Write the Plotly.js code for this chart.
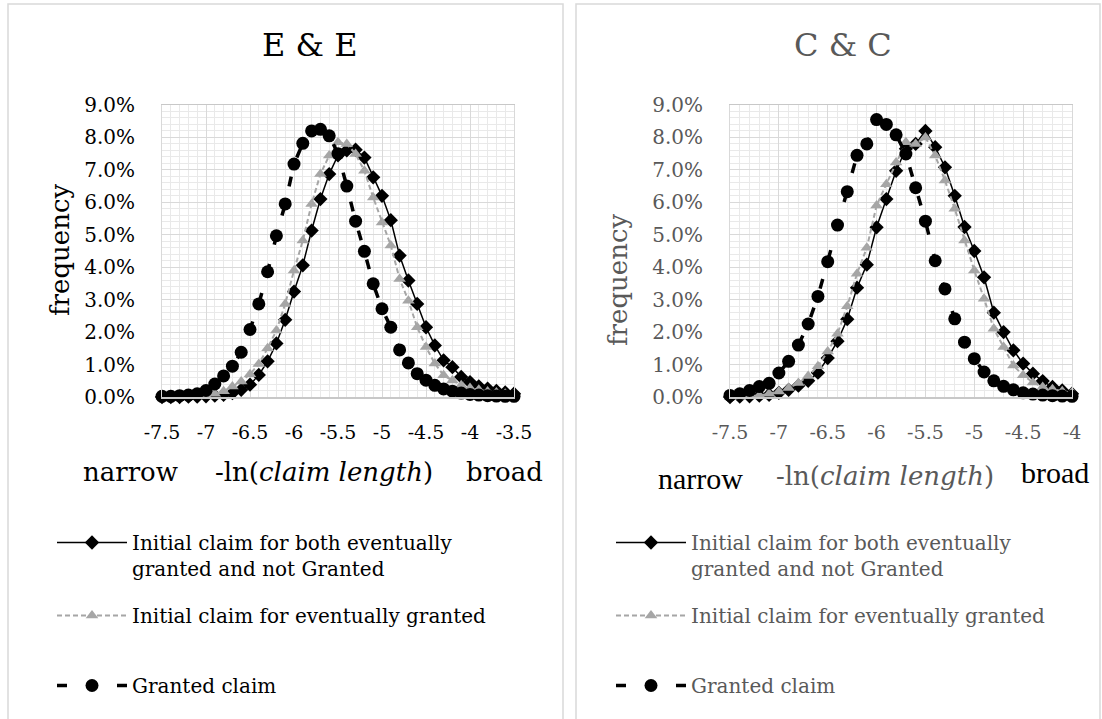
<!DOCTYPE html>
<html>
<head>
<meta charset="utf-8">
<script src="https://cdn.plot.ly/plotly-3.0.1.min.js"></script>
<style>html,body{margin:0;padding:0;background:#fff;}#chart{width:1102px;height:719px;}</style>
</head>
<body>
<div id="chart"></div>
<script>
// ---- data ----
const eeX = [-7.5,-7.4,-7.3,-7.2,-7.1,-7.0,-6.9,-6.8,-6.7,-6.6,-6.5,-6.4,-6.3,-6.2,-6.1,-6.0,-5.9,-5.8,-5.7,-5.6,-5.5,-5.4,-5.3,-5.2,-5.1,-5.0,-4.9,-4.8,-4.7,-4.6,-4.5,-4.4,-4.3,-4.2,-4.1,-4.0,-3.9,-3.8,-3.7,-3.6,-3.5];
const eeBoth = [0.00,0.00,0.00,0.01,0.01,0.02,0.04,0.07,0.12,0.22,0.38,0.68,1.10,1.65,2.38,3.25,4.06,5.13,6.10,6.87,7.45,7.60,7.62,7.38,6.77,6.20,5.45,4.36,3.59,2.87,2.15,1.59,1.13,0.92,0.62,0.46,0.33,0.26,0.19,0.14,0.10];
const eeEventual = [0.00,0.00,0.01,0.02,0.03,0.05,0.10,0.18,0.32,0.48,0.70,1.02,1.50,2.05,2.87,3.90,4.82,5.95,6.87,7.44,7.85,7.80,7.49,6.97,6.15,5.38,4.67,3.64,2.97,2.15,1.54,1.03,0.67,0.51,0.36,0.28,0.22,0.17,0.14,0.10,0.08];
const eeGranted = [0.02,0.02,0.04,0.06,0.10,0.20,0.40,0.65,0.95,1.38,2.08,2.87,3.86,4.97,5.95,7.18,7.82,8.20,8.25,8.05,7.50,6.50,5.42,4.49,3.49,2.72,2.15,1.45,1.05,0.72,0.52,0.36,0.25,0.18,0.12,0.08,0.06,0.04,0.03,0.02,0.02];

const ccX = [-7.5,-7.4,-7.3,-7.2,-7.1,-7.0,-6.9,-6.8,-6.7,-6.6,-6.5,-6.4,-6.3,-6.2,-6.1,-6.0,-5.9,-5.8,-5.7,-5.6,-5.5,-5.4,-5.3,-5.2,-5.1,-5.0,-4.9,-4.8,-4.7,-4.6,-4.5,-4.4,-4.3,-4.2,-4.1,-4.0];
const ccBoth = [0.00,0.01,0.02,0.04,0.07,0.13,0.22,0.35,0.50,0.75,1.20,1.72,2.40,3.37,4.08,5.23,6.10,6.97,7.65,7.80,8.20,7.70,7.08,6.20,5.24,4.50,3.69,2.60,2.00,1.44,1.03,0.72,0.49,0.31,0.20,0.10];
const ccEventual = [0.00,0.01,0.03,0.05,0.10,0.17,0.28,0.43,0.65,0.95,1.40,1.95,2.80,3.80,4.60,5.90,6.56,7.23,7.85,7.80,8.00,7.44,6.67,5.80,4.82,3.90,3.03,2.10,1.54,0.97,0.67,0.45,0.31,0.24,0.18,0.14];
const ccGranted = [0.05,0.10,0.20,0.32,0.42,0.74,1.10,1.60,2.25,3.10,4.17,5.30,6.33,7.45,7.80,8.55,8.40,8.08,7.49,6.45,5.42,4.20,3.33,2.41,1.69,1.18,0.77,0.50,0.33,0.22,0.13,0.09,0.06,0.04,0.03,0.02];

const eeTickVals = [-7.5,-7,-6.5,-6,-5.5,-5,-4.5,-4,-3.5];
const eeTickText = ['-7.5','-7','-6.5','-6','-5.5','-5','-4.5','-4','-3.5'];
const ccTickVals = [-7.5,-7,-6.5,-6,-5.5,-5,-4.5,-4];
const ccTickText = ['-7.5','-7','-6.5','-6','-5.5','-5','-4.5','-4'];

const seriesNames = ['Initial claim for both eventually<br>granted and not Granted','Initial claim for eventually granted','Granted claim'];
const panelTitles = ['E &amp; E','C &amp; C'];

// ---- styles ----
const SERIF = 'DejaVu Serif';
const W = 1102, H = 719;
const px = v => v / W, py = v => 1 - v / H;
const GRAY_TXT = '#595959';

function seriesTraces(xs, both, ev, gr, xa, ya, legA, legB, tag) {
  return [
    {x: xs, y: both, xaxis: xa, yaxis: ya, type: 'scatter', mode: 'lines+markers', name: seriesNames[0],
     line: {color: '#000000', width: 1.5}, marker: {symbol: 'diamond', size: 11, color: '#000000'},
     cliponaxis: false, legend: legA, legendgroup: tag + 'a'},
    {x: xs, y: ev, xaxis: xa, yaxis: ya, type: 'scatter', mode: 'lines+markers', name: seriesNames[1],
     line: {color: '#a6a6a6', width: 2, dash: '5px,3px'}, marker: {symbol: 'triangle-up', size: 11, color: '#a6a6a6'},
     cliponaxis: false, legend: legA, legendgroup: tag + 'b'},
    {x: xs, y: gr, xaxis: xa, yaxis: ya, type: 'scatter', mode: 'lines+markers', name: seriesNames[2],
     line: {color: '#000000', width: 3.5, dash: '10px,20px'}, marker: {symbol: 'circle', size: 13, color: '#000000'},
     cliponaxis: false, legend: legB, legendgroup: tag + 'c'}
  ];
}

const data = [].concat(
  seriesTraces(eeX, eeBoth, eeEventual, eeGranted, 'x', 'y', 'legend', 'legend3', 'ee'),
  seriesTraces(ccX, ccBoth, ccEventual, ccGranted, 'x2', 'y2', 'legend2', 'legend4', 'cc')
);

function xAxis(dom, rng, tv, tt, color) {
  return {domain: dom, range: rng, tickmode: 'array', tickvals: tv, ticktext: tt,
    showgrid: true, gridcolor: '#d9d9d9', gridwidth: 1,
    minor: {dtick: 0.1, showgrid: true, gridcolor: '#e9e9e9', gridwidth: 1, ticks: ''},
    zeroline: false, showline: true, linecolor: '#c8c8c8', linewidth: 1.5, mirror: true,
    ticks: '', ticklabelstandoff: 18,
    tickfont: {family: SERIF, size: 19, color: color}, fixedrange: true};
}
function yAxis(dom, anchor, color) {
  return {domain: dom, anchor: anchor, range: [0, 9], dtick: 1, tickformat: '.1f', ticksuffix: '%',
    showgrid: true, gridcolor: '#d9d9d9', gridwidth: 1,
    minor: {dtick: 0.2, showgrid: true, gridcolor: '#e9e9e9', gridwidth: 1, ticks: ''},
    zeroline: false, showline: true, linecolor: '#d9d9d9', linewidth: 1, mirror: true,
    ticks: '', ticklabelstandoff: 22,
    tickfont: {family: SERIF, size: 20, color: color}, fixedrange: true};
}

const yDom = [py(397), py(105)];

function legendCfg(x, y, color) {
  return {x: px(x), y: py(y), xanchor: 'left', yanchor: 'top', bgcolor: 'rgba(0,0,0,0)',
    font: {family: SERIF, size: 20, color: color}, valign: 'top', itemwidth: 70,
    traceorder: 'grouped', tracegroupgap: 18};
}

function ann(text, x, y, size, color, family, angle) {
  return {text: text, x: px(x), y: py(y), xref: 'paper', yref: 'paper', showarrow: false,
    xanchor: 'center', yanchor: 'middle', textangle: angle || 0,
    font: {family: family || SERIF, size: size, color: color}};
}

const layout = {
  width: W, height: H, margin: {l: 0, r: 0, t: 0, b: 0},
  paper_bgcolor: '#ffffff', plot_bgcolor: '#ffffff',
  showlegend: true,
  xaxis: xAxis([px(162), px(514)], [-7.5, -3.5], eeTickVals, eeTickText, '#000000'),
  yaxis: yAxis(yDom, 'x', '#000000'),
  xaxis2: Object.assign(xAxis([px(730), px(1072)], [-7.5, -4], ccTickVals, ccTickText, GRAY_TXT), {anchor: 'y2'}),
  yaxis2: yAxis(yDom, 'x2', GRAY_TXT),
  legend: legendCfg(52, 523, '#000000'),
  legend3: legendCfg(52, 666, '#000000'),
  legend2: legendCfg(611, 523, GRAY_TXT),
  legend4: legendCfg(611, 666, GRAY_TXT),
  shapes: [
    {type: 'rect', xref: 'paper', yref: 'paper', x0: px(8), x1: px(563), y0: -0.05, y1: py(4),
     line: {color: '#d9d9d9', width: 1.5}, fillcolor: 'rgba(0,0,0,0)', layer: 'below'},
    {type: 'rect', xref: 'paper', yref: 'paper', x0: px(576), x1: px(1100), y0: -0.05, y1: py(4),
     line: {color: '#d9d9d9', width: 1.5}, fillcolor: 'rgba(0,0,0,0)', layer: 'below'}
  ],
  annotations: [
    ann(panelTitles[0], 310, 45, 32, '#000000'),
    ann(panelTitles[1], 843, 45, 32, GRAY_TXT),
    ann('frequency', 60, 250, 26, '#000000', SERIF, -90),
    ann('frequency', 618, 280, 26, GRAY_TXT, SERIF, -90),
    ann('narrow', 130, 472, 26, '#000000'),
    ann('-ln(<i>claim length</i>)', 324, 472, 26, '#000000'),
    ann('broad', 504, 472, 26, '#000000'),
    ann('narrow', 700, 478, 30, '#000000', 'Liberation Serif'),
    ann('-ln(<i>claim length</i>)', 885, 476, 26, GRAY_TXT),
    ann('broad', 1055, 472, 30, '#000000', 'Liberation Serif')
  ]
};

Plotly.newPlot('chart', data, layout, {displayModeBar: false, staticPlot: true});
</script>
</body>
</html>
